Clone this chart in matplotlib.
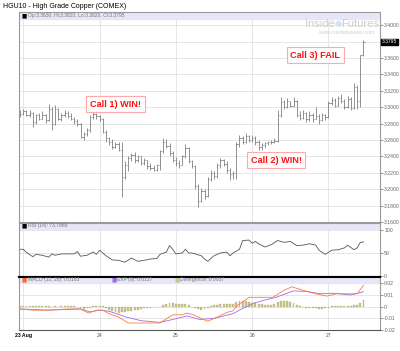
import numpy as np
import matplotlib
matplotlib.use('Agg')
import matplotlib.pyplot as plt
from matplotlib.patches import Rectangle

plt.rcParams['font.family'] = ['Liberation Sans', 'DejaVu Sans']

# hourly bars, hours counted from 23 Aug 00:00
hours = list(range(-1, 108))
opens = [3.290, 3.292, 3.295, 3.291, 3.293, 3.282, 3.290, 3.286, 3.291, 3.284,
         3.298, 3.280, 3.298, 3.286, 3.290, 3.293, 3.289, 3.286, 3.283, 3.279,
         3.264, 3.267, 3.272, 3.288, 3.292, 3.289, 3.286, 3.270, 3.262, 3.258,
         3.252, 3.255, 3.248, 3.215, 3.230, 3.238, 3.242, 3.235, 3.240, 3.232,
         3.235, 3.228, 3.226, 3.224, 3.229, 3.246, 3.258, 3.253, 3.244, 3.236,
         3.232, 3.230, 3.240, 3.250, 3.234, 3.228, 3.204, 3.186, 3.198, 3.192,
         3.212, 3.220, 3.216, 3.230, 3.235, 3.231, 3.223, 3.218, 3.220, 3.255,
         3.263, 3.258, 3.265, 3.260, 3.263, 3.257, 3.251, 3.254, 3.256, 3.257,
         3.258, 3.259, 3.290, 3.306, 3.300, 3.307, 3.302, 3.308, 3.291, 3.287,
         3.293, 3.285, 3.291, 3.286, 3.289, 3.284, 3.290, 3.288, 3.305, 3.309,
         3.302, 3.311, 3.308, 3.300, 3.310, 3.299, 3.325, 3.308, 3.363]
highs = [3.296, 3.298, 3.297, 3.296, 3.294, 3.292, 3.293, 3.295, 3.292, 3.304,
         3.300, 3.303, 3.299, 3.293, 3.296, 3.295, 3.293, 3.288, 3.286, 3.281,
         3.270, 3.275, 3.290, 3.294, 3.293, 3.291, 3.287, 3.272, 3.264, 3.261,
         3.258, 3.258, 3.257, 3.234, 3.240, 3.244, 3.245, 3.242, 3.241, 3.238,
         3.236, 3.232, 3.229, 3.231, 3.248, 3.263, 3.261, 3.256, 3.246, 3.239,
         3.236, 3.242, 3.255, 3.252, 3.236, 3.230, 3.206, 3.202, 3.200, 3.215,
         3.224, 3.222, 3.232, 3.238, 3.237, 3.234, 3.226, 3.222, 3.258, 3.266,
         3.265, 3.268, 3.266, 3.266, 3.265, 3.260, 3.256, 3.258, 3.259, 3.260,
         3.262, 3.296, 3.312, 3.309, 3.311, 3.308, 3.312, 3.309, 3.295, 3.297,
         3.294, 3.295, 3.293, 3.300, 3.292, 3.293, 3.292, 3.307, 3.312, 3.311,
         3.314, 3.316, 3.310, 3.314, 3.312, 3.330, 3.327, 3.364, 3.382]
lows = [3.288, 3.290, 3.289, 3.288, 3.276, 3.280, 3.284, 3.285, 3.281, 3.283,
        3.272, 3.278, 3.284, 3.283, 3.288, 3.287, 3.284, 3.280, 3.277, 3.262,
        3.260, 3.265, 3.270, 3.285, 3.286, 3.283, 3.268, 3.258, 3.254, 3.249,
        3.250, 3.246, 3.190, 3.213, 3.222, 3.234, 3.232, 3.233, 3.230, 3.229,
        3.225, 3.223, 3.222, 3.222, 3.224, 3.244, 3.250, 3.240, 3.233, 3.228,
        3.226, 3.229, 3.238, 3.232, 3.226, 3.200, 3.178, 3.184, 3.188, 3.190,
        3.210, 3.212, 3.214, 3.226, 3.228, 3.220, 3.211, 3.212, 3.212, 3.252,
        3.255, 3.256, 3.257, 3.258, 3.254, 3.248, 3.248, 3.250, 3.254, 3.255,
        3.256, 3.258, 3.288, 3.298, 3.299, 3.300, 3.301, 3.288, 3.284, 3.286,
        3.282, 3.283, 3.282, 3.285, 3.280, 3.283, 3.284, 3.287, 3.303, 3.300,
        3.301, 3.305, 3.298, 3.299, 3.297, 3.298, 3.298, 3.300, 3.362]
closes = opens[1:] + [3.3795]

rsi_hours = [-1, 0, 1, 3, 4, 6, 8, 9, 10, 12, 14, 16, 17, 18, 20, 22, 23, 24, 26, 28,
             30, 32, 34, 36, 38, 40, 42, 43, 45, 46, 47, 48, 50, 51, 52, 53, 56, 57, 58, 60,
             62, 64, 65, 66, 68, 69, 71, 72, 73, 74, 76, 78, 80, 82, 84, 86, 88, 90, 92, 93,
             95, 97, 99, 101, 102, 104, 105, 106, 107]
rsi = [58, 58, 51, 42, 47, 45, 41, 48, 45, 48, 48, 48, 53, 43, 45, 52, 47, 56, 44, 35,
       34, 30, 39, 32, 34, 37, 38, 47, 52, 66, 58, 48, 50, 58, 50, 50, 44, 37, 32, 44,
       50, 52, 44, 50, 58, 77, 78, 71, 75, 70, 63, 68, 77, 73, 75, 66, 67, 70, 67, 56,
       47, 56, 57, 61, 67, 57, 61, 73, 74]

macd_hours = [-1, 3, 8, 14, 18, 20.5, 23, 25, 27, 30, 33, 37, 43, 47, 50, 51.5, 53.5, 58,
              61, 64, 66, 67.5, 69, 71, 75.5, 78.5, 82, 84.5, 88, 92, 95.5, 98.5, 102, 105, 107]
macd = [-0.002, -0.003, -0.003, -0.002, -0.002, -0.0055, -0.003, -0.003, -0.006, -0.009,
        -0.014, -0.014, -0.014, -0.007, -0.007, -0.0055, -0.007, -0.0125, -0.009, -0.005,
        -0.0035, 0.0015, 0.004, 0.008, 0.008, 0.008, 0.014, 0.017, 0.014, 0.011,
        0.009, 0.011, 0.011, 0.011, 0.0183]
sig_hours = [-1, 8, 18, 21, 24, 27, 32.5, 37, 43, 47, 51.5, 55.5, 60, 66, 69, 72.5, 76.5,
             79.5, 85, 89, 93.5, 97.5, 103, 107]
signal = [-0.002, -0.003, -0.002, -0.0045, -0.003, -0.004, -0.009, -0.012, -0.0135, -0.011,
          -0.008, -0.011, -0.010, -0.006, -0.0015, 0.003, 0.006, 0.008, 0.0135, 0.013,
          0.011, 0.0115, 0.010, 0.0127]
divergence = [0.0008, 0.0008, 0.0006, 0.0005,
              0.0003, 0.0002, 0.0003, 0.0002, 0.0003,
              0.0002, 0.0001, 0.0003, 0.0001, 0.0002, 0.0004, 0.0005, 0.0004, 0.0003,
              -0.0005, -0.0015, -0.002, -0.0015, -0.001,
              0.0003, 0.0005, 0.0005, 0.0002,
              -0.0015, -0.0025, -0.004, -0.005, -0.0055, -0.005, -0.0045, -0.004,
              -0.0035, -0.003, -0.0025, -0.002, -0.0015, -0.001, -0.0008, -0.0005, -0.0003, -0.0002,
              0.001, 0.0025, 0.003, 0.003, 0.0025, 0.0025, 0.002, 0.002, 0.0015,
              -0.0005, -0.0015, -0.002, -0.0025, -0.002, -0.0015,
              0.0005, 0.001, 0.0015, 0.002, 0.0025, 0.0025, 0.002, 0.0025,
              0.004, 0.005, 0.005, 0.0045, 0.004, 0.0035, 0.003, 0.0025,
              0.002, 0.0015, 0.001, 0.001, 0.002,
              0.004, 0.0045, 0.0045, 0.0045, 0.004, 0.003,
              0.001, 0.0003, -0.0005, -0.001, -0.001, -0.0015, -0.0015, -0.002, -0.002, -0.0015, -0.001,
              0.0003, 0.0005, 0.0002, 0.0003, 0.0002, 0.0003, 0.0005, 0.001,
              0.001, 0.0035, 0.0057]

day_ticks = [0, 24, 48, 72, 96]
day_labels = ['23 Aug', '24', '25', '26', '27']
price_ticks = [3.16, 3.18, 3.20, 3.22, 3.24, 3.26, 3.28, 3.30, 3.32, 3.34, 3.36, 3.38, 3.40]
price_labels = ['3.1600', '3.1800', '3.2000', '3.2200', '3.2400', '3.2600', '3.2800',
                '3.3000', '3.3200', '3.3400', '3.3600', '', '3.4000']
rsi_ticks = [0, 50, 100]
macd_ticks = [-0.02, -0.01, 0, 0.01, 0.02]
macd_labels = ['-0.02', '-0.01', '0', '0.01', '0.02']

W, H = 400, 351
fig = plt.figure(figsize=(4, 3.51), dpi=100)

def box(l, t, r, b):
    return [l / W, 1 - b / H, (r - l) / W, (b - t) / H]

ax = fig.add_axes(box(19, 12, 380, 222))
ax_rsi = fig.add_axes(box(19, 223, 380, 276.5))
ax_macd = fig.add_axes(box(19, 276.5, 380, 330))

band_col = '#e6e6f8'
tcol = '#666666'
for a in (ax, ax_rsi, ax_macd):
    a.set_xlim(-1.35, 112.2)
    a.set_xticks(day_ticks)
    a.grid(color='#e2e2e2', lw=0.6)
    a.set_axisbelow(True)
    a.yaxis.tick_right()
    a.tick_params(axis='y', labelsize=3.7, colors=tcol, length=2, width=0.5, pad=1)
    a.tick_params(axis='x', length=0)
    for s in a.spines.values():
        s.set_color('#9a9a9a')
        s.set_linewidth(0.8)
    if a is not ax_macd:
        a.set_xticklabels([])

# price bars
ax.vlines(hours, lows, highs, color='#808080', lw=0.6)
ax.hlines(opens, np.array(hours) - 0.4, hours, color='#808080', lw=0.6)
ax.hlines(closes, hours, np.array(hours) + 0.4, color='#808080', lw=0.6)
ax.set_ylim(3.16, 3.416)
ax.set_yticks(price_ticks)
ax.set_yticklabels(price_labels)
ax.add_patch(Rectangle((0, 1 - 7 / 210), 1, 7 / 210, transform=ax.transAxes,
                       color=band_col, zorder=1))
ax.text(0.008, 1 - 3.5 / 210, '\u25a0', transform=ax.transAxes, fontsize=4, color='black',
        va='center', family='DejaVu Sans')
ax.text(0.025, 1 - 3.5 / 210, 'Op:3.3630, Hi:3.3820, Lo:3.3620, Cl:3.3795',
        transform=ax.transAxes, fontsize=3.6, color='#777777', va='center')
ax.text(1.004, closes[-1], '%.4f' % closes[-1], transform=ax.get_yaxis_transform(),
        fontsize=3.6, color='white', va='center', ha='left',
        bbox=dict(facecolor='black', edgecolor='black', pad=0.6))

# watermark
ax.text(0.875, 0.943, 'Inside', transform=ax.transAxes, fontsize=8, color='#cfcfcf',
        ha='right', va='center')
ax.text(0.884, 0.943, '\u25cf', transform=ax.transAxes, fontsize=6, color='#d6e4f0',
        ha='center', va='center', family='DejaVu Sans')
ax.text(0.893, 0.943, 'Futures', transform=ax.transAxes, fontsize=8, color='#cfcfcf',
        ha='left', va='center')
ax.text(0.985, 0.9, 'www.insidefutures.com', transform=ax.transAxes, fontsize=4,
        color='#cfcfcf', ha='right', va='center')

# calls
call_style = dict(fontsize=6.6, fontweight='bold', color='#ff1010', ha='center', va='center',
                  bbox=dict(facecolor='white', edgecolor='#ffaaaa', lw=0.8, pad=2.6))
ax.text(29, 3.3035, 'Call 1) WIN!', **call_style)
ax.text(79.5, 3.2355, 'Call 2) WIN!', **call_style)
ax.text(91.8, 3.3635, 'Call 3) FAIL', **call_style)

# RSI
ax_rsi.plot(rsi_hours, rsi, color='#555555', lw=0.6)
ax_rsi.set_ylim(-1, 115)
ax_rsi.set_yticks(rsi_ticks)
ax_rsi.add_patch(Rectangle((0, 1 - 6 / 53.5), 1, 6 / 53.5, transform=ax_rsi.transAxes,
                           color=band_col, zorder=1))
ax_rsi.text(0.008, 1 - 3 / 53.5, '\u25a0', transform=ax_rsi.transAxes, fontsize=4,
            color='black', va='center', family='DejaVu Sans')
ax_rsi.text(0.025, 1 - 3 / 53.5, 'RSI (14): 73.7968', transform=ax_rsi.transAxes,
            fontsize=3.6, color='#777777', va='center')
ax_rsi.spines['bottom'].set_color('black')
ax_rsi.spines['bottom'].set_linewidth(1.5)

# MACD
ax_macd.bar(hours, divergence, width=0.6, color='#c9c48e', edgecolor='#b0aa70', lw=0.2)
ax_macd.plot(sig_hours, signal, color='#9a6cf0', lw=0.6)
ax_macd.plot(macd_hours, macd, color='#ff7a3a', lw=0.6)
ax_macd.set_ylim(-0.02, 0.0258)
ax_macd.set_yticks(macd_ticks)
ax_macd.set_yticklabels(macd_labels)
ax_macd.spines['top'].set_color('black')
ax_macd.spines['top'].set_linewidth(1.5)
ax_macd.spines['bottom'].set_color('#555555')
ax_macd.add_patch(Rectangle((0, 1 - 6 / 53.5), 1, 6 / 53.5, transform=ax_macd.transAxes,
                            color=band_col, zorder=1))
for xpos, col, lab in [(0.008, '#ff6a20', 'MACD (12, 26): 0.0183'),
                       (0.255, '#9a6cf0', 'EXP (9): 0.0127'),
                       (0.43, '#c9c48e', 'Divergence: 0.0057')]:
    ax_macd.text(xpos, 1 - 3 / 53.5, '\u25a0', transform=ax_macd.transAxes, fontsize=4,
                 color=col, va='center', family='DejaVu Sans')
    ax_macd.text(xpos + 0.017, 1 - 3 / 53.5, lab, transform=ax_macd.transAxes,
                 fontsize=3.6, color='#777777', va='center')
ax_macd.set_xticklabels(day_labels)
ax_macd.tick_params(axis='x', labelsize=3.7, colors='#555555', pad=2)
ax_macd.get_xticklabels()[0].set_fontweight('bold')
ax_macd.get_xticklabels()[0].set_color('black')

fig.text(3 / W, 1 - 6 / H, 'HGU10 - High Grade Copper (COMEX)', fontsize=5,
         va='center', ha='left', color='black')

fig.savefig('out.png', dpi=100)
